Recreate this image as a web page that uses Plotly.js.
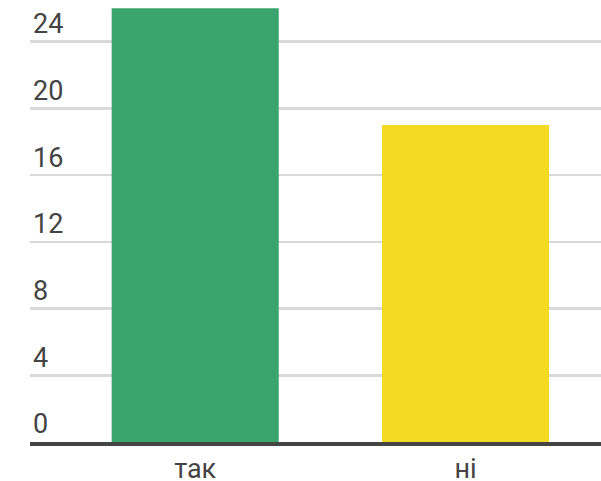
<!DOCTYPE html>
<html>
<head>
<meta charset="utf-8">
<script src="https://cdn.plot.ly/plotly-3.0.1.min.js"></script>
<style>html,body{margin:0;padding:0;background:#fff;}#chart{width:601px;height:481px;}</style>
</head>
<body>
<div id="chart"></div>
<script>
var categories = ["так", "ні"];
var values = [26, 19];
var yTicks = [0, 4, 8, 12, 16, 20, 24];
var barColors = ["#3ba36d", "#f4da22"];

var data = [{
  type: "bar",
  x: categories,
  y: values,
  marker: {color: barColors, line: {width: 0}},
  hoverinfo: "x+y"
}];

var layout = {
  width: 601,
  height: 481,
  margin: {l: 30, r: 0, t: 0, b: 39, pad: 0},
  paper_bgcolor: "#ffffff",
  plot_bgcolor: "#ffffff",
  showlegend: false,
  bargap: 0.382,
  font: {family: "Roboto, sans-serif", size: 27, color: "#444444"},
  xaxis: {
    type: "category",
    range: [-0.611, 1.501],
    showgrid: false,
    zeroline: false,
    showline: true,
    linecolor: "#444444",
    linewidth: 4,
    layer: "above traces",
    ticks: "",
    tickfont: {family: "Roboto, sans-serif", size: 27, color: "#444444"},
    automargin: false,
    fixedrange: true
  },
  yaxis: {
    range: [0, 26.5],
    tickvals: yTicks,
    ticktext: yTicks.map(String),
    showgrid: true,
    gridcolor: "#d9d9d9",
    gridwidth: 2.5,
    zeroline: false,
    showline: false,
    ticks: "",
    ticklabelposition: "inside",
    ticklabelshift: -18,
    ticklabelstandoff: 0,
    tickfont: {family: "Roboto, sans-serif", size: 27, color: "#444444"},
    automargin: false,
    fixedrange: true
  }
};

Plotly.newPlot("chart", data, layout, {displayModeBar: false, staticPlot: true});
</script>
</body>
</html>
